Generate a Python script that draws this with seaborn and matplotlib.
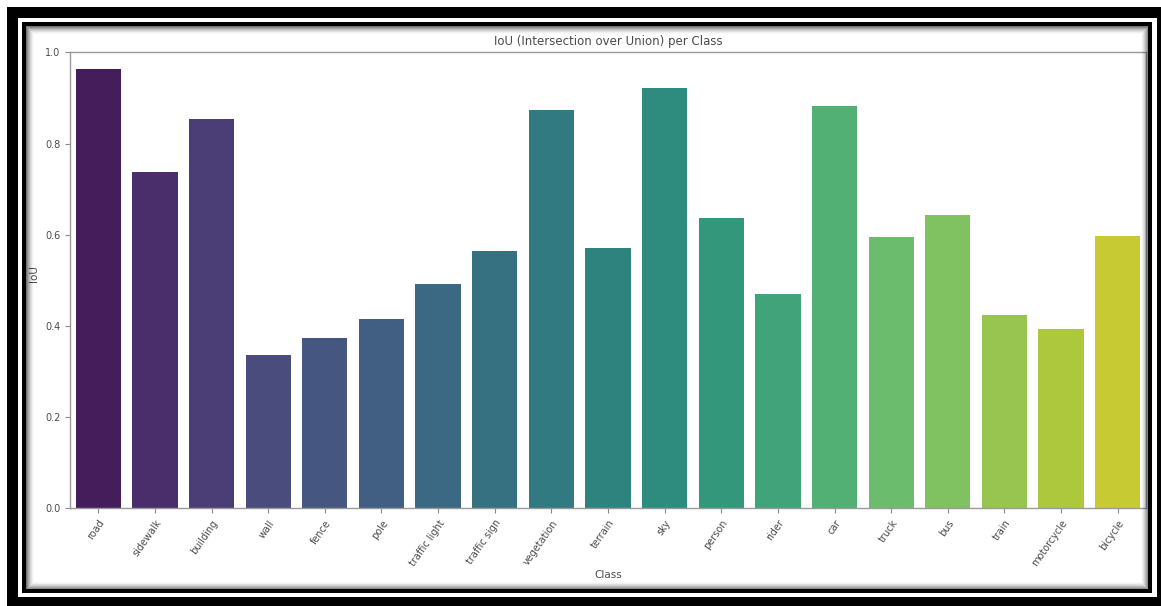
import matplotlib
matplotlib.use("Agg")
import matplotlib.pyplot as plt
from matplotlib.patches import Rectangle
import seaborn as sns
import pandas as pd

classes = ["road", "sidewalk", "building", "wall", "fence", "pole",
           "traffic light", "traffic sign", "vegetation", "terrain", "sky",
           "person", "rider", "car", "truck", "bus", "train", "motorcycle",
           "bicycle"]
iou = [0.964, 0.738, 0.853, 0.336, 0.373, 0.415, 0.491, 0.565, 0.873,
       0.571, 0.921, 0.636, 0.469, 0.883, 0.596, 0.644, 0.425, 0.394, 0.597]

df = pd.DataFrame({"Class": classes, "IoU": iou})

W, H, DPI = 1161, 606, 100
fig = plt.figure(figsize=(W / DPI, H / DPI), dpi=DPI, facecolor="white")

# axes box in pixel terms
ax_l, ax_r, ax_t, ax_b = 70, 1146, 52.3, 508.3
ax = fig.add_axes([ax_l / W, 1 - ax_b / H, (ax_r - ax_l) / W, (ax_b - ax_t) / H])

sns.barplot(data=df, x="Class", y="IoU", hue="Class", palette="viridis",
            legend=False, ax=ax)

text_col = "#4a4a4a"
ax.set_ylim(0, 1.0)
ax.set_title("IoU (Intersection over Union) per Class", fontsize=8.5,
             color=text_col, pad=5)
ax.set_xlabel("Class", fontsize=7.5, color=text_col)
ax.set_ylabel("IoU", fontsize=7.5, color=text_col)
ax.xaxis.set_label_coords(0.5, -0.135)
ax.yaxis.set_label_coords(-0.029, 0.515)
ax.tick_params(axis="both", labelsize=7, colors="#8a8a8a", labelcolor=text_col)
plt.setp(ax.get_xticklabels(), rotation=55, ha="right", rotation_mode="anchor")
for s in ax.spines.values():
    s.set_color("#9a9a9a")
    s.set_linewidth(1.0)


def px_rect(x0, y0, x1, y1, **kw):
    r = Rectangle((x0 / W, 1 - y1 / H), (x1 - x0) / W, (y1 - y0) / H,
                  transform=fig.transFigure, **kw)
    fig.add_artist(r)
    return r


# decorative double black frame with inner shadow
lw1 = 72 / DPI  # one pixel in points
# outer thick black band
for (x0, y0, x1, y1) in [(7, 7, W, 18), (7, 597, W, H), (7, 7, 18, H),
                         (1157, 7, W, H)]:
    px_rect(x0, y0, x1, y1, facecolor="black", edgecolor="none", zorder=20)
# thin inner black band
for (x0, y0, x1, y1) in [(22, 22, 1152, 26), (22, 589, 1152, 593),
                         (22, 22, 26, 593), (1148, 22, 1152, 593)]:
    px_rect(x0, y0, x1, y1, facecolor="black", edgecolor="none", zorder=20)
# soft inner shadow
n = 8
for i in range(n):
    a = 0.55 * (1 - i / n) ** 1.6
    px_rect(26 + i, 26 + i, 1148 - i, 589 - i, fill=False, edgecolor="black",
            linewidth=lw1, alpha=a, zorder=19)

fig.savefig("out.png", dpi=DPI, facecolor="white")
